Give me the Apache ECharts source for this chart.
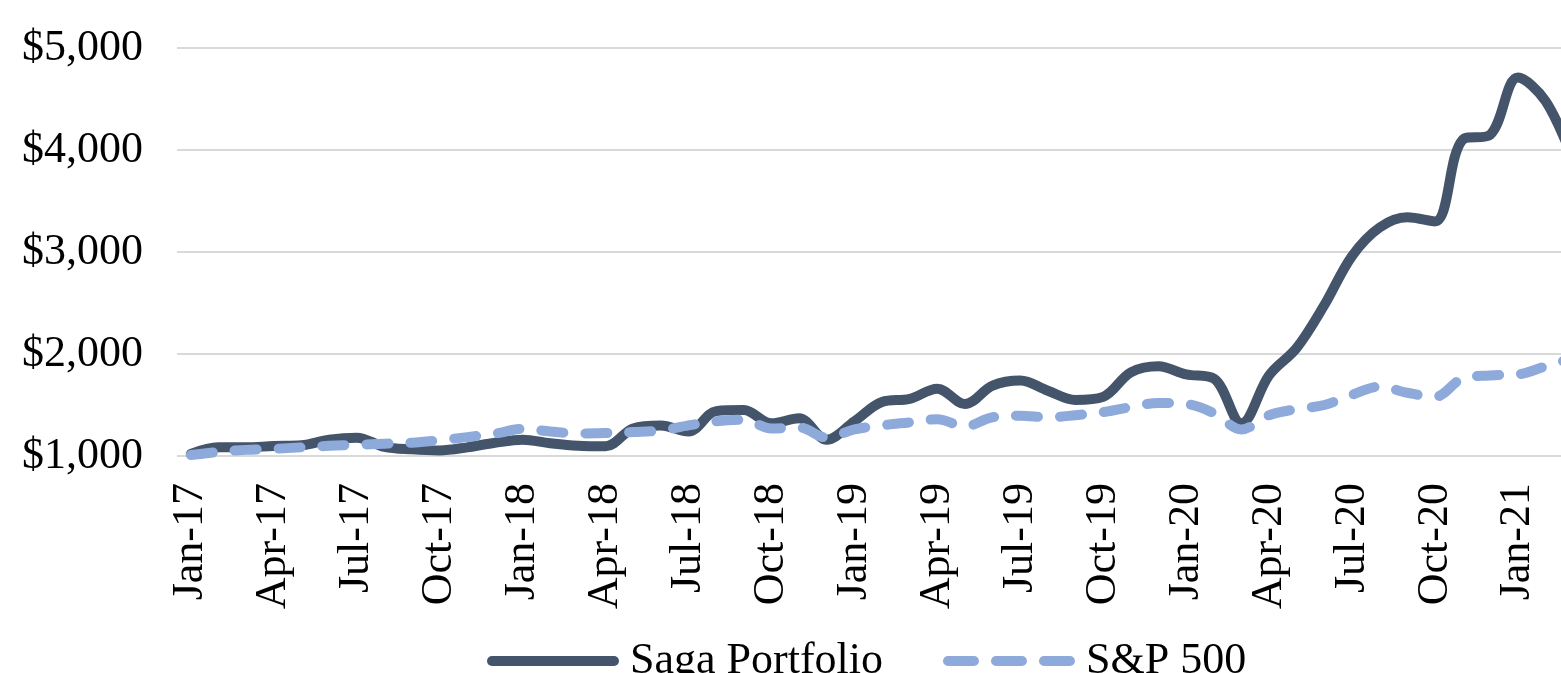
<!DOCTYPE html>
<html>
<head>
<meta charset="utf-8">
<script src="https://cdn.jsdelivr.net/npm/echarts@6/dist/echarts.min.js"></script>
<style>
html, body { margin: 0; padding: 0; background: #fff; }
#growthChart { width: 1561px; height: 673px; }
</style>
</head>
<body>
<div id="growthChart"></div>
<script>
// months Jan-17 .. Mar-21
var months = ['Jan-17', 'Feb-17', 'Mar-17', 'Apr-17', 'May-17', 'Jun-17', 'Jul-17', 'Aug-17', 'Sep-17', 'Oct-17', 'Nov-17', 'Dec-17',
	'Jan-18', 'Feb-18', 'Mar-18', 'Apr-18', 'May-18', 'Jun-18', 'Jul-18', 'Aug-18', 'Sep-18', 'Oct-18', 'Nov-18', 'Dec-18',
	'Jan-19', 'Feb-19', 'Mar-19', 'Apr-19', 'May-19', 'Jun-19', 'Jul-19', 'Aug-19', 'Sep-19', 'Oct-19', 'Nov-19', 'Dec-19',
	'Jan-20', 'Feb-20', 'Mar-20', 'Apr-20', 'May-20', 'Jun-20', 'Jul-20', 'Aug-20', 'Sep-20', 'Oct-20', 'Nov-20', 'Dec-20',
	'Jan-21', 'Feb-21', 'Mar-21'];

var sagaValues = [1020, 1085, 1085, 1098, 1105, 1160, 1180, 1090, 1065, 1055, 1085, 1130,
	1160, 1125, 1100, 1095, 1270, 1300, 1240, 1440, 1450, 1320, 1370, 1160,
	1340, 1530, 1560, 1660, 1510, 1690, 1740, 1640, 1550, 1580, 1820, 1880,
	1800, 1760, 1320, 1790, 2060, 2480, 2960, 3240, 3340, 3300, 4100, 4150,
	4710, 4480, 3900];

var spValues = [1010, 1040, 1060, 1070, 1085, 1100, 1110, 1120, 1130, 1155, 1185, 1220,
	1265, 1240, 1220, 1225, 1235, 1250, 1300, 1340, 1355, 1270, 1280, 1180,
	1260, 1300, 1330, 1360, 1290, 1380, 1395, 1380, 1400, 1430, 1480, 1520,
	1510, 1420, 1260, 1400, 1460, 1500, 1600, 1680, 1620, 1580, 1760, 1790,
	1800, 1880, 1960];

var yTicks = [1000, 5000, 1000]; // min, max, step

var seriesNames = ['Saga Portfolio', 'S&P 500'];

var FONT = 'Liberation Serif, Times New Roman, serif';

// legend icons: a solid capsule and three dash capsules (132 x 10 box)
var solidIcon = 'path://M5,0H127A5,5 0 0 1 127,10H5A5,5 0 0 1 5,0Z';
var dashIcon = 'path://M5,0H31A5,5 0 0 1 31,10H5A5,5 0 0 1 5,0Z'
	+ 'M53,0H79A5,5 0 0 1 79,10H53A5,5 0 0 1 53,0Z'
	+ 'M101,0H127A5,5 0 0 1 127,10H101A5,5 0 0 1 101,0Z';

function drawGrowthChart() {
	var myChart = echarts.init(document.getElementById('growthChart'));
	var option = {
		backgroundColor : '#ffffff',
		animation : false,
		grid : {
			left : 177,
			top : 48,
			width : 1410,
			height : 408,
			outerBoundsMode : 'none'
		},
		legend : {
			data : [
				{ name : seriesNames[0], icon : solidIcon },
				{ name : seriesNames[1], icon : dashIcon }
			],
			top : 634,
			left : 482,
			itemWidth : 132,
			itemHeight : 10,
			itemGap : 60,
			textStyle : {
				fontFamily : FONT,
				fontSize : 44,
				color : '#000',
				padding : [0, 0, 0, 6]
			}
		},
		xAxis : {
			type : 'category',
			data : months,
			boundaryGap : true,
			axisLine : { show : false },
			axisTick : { show : false },
			axisLabel : {
				interval : 2,
				rotate : 90,
				margin : 27,
				fontFamily : FONT,
				fontSize : 44,
				color : '#000'
			}
		},
		yAxis : {
			type : 'value',
			min : yTicks[0],
			max : yTicks[1],
			interval : yTicks[2],
			axisLine : { show : false },
			axisTick : { show : false },
			splitLine : {
				lineStyle : { color : '#d9d9d9', width : 2 }
			},
			axisLabel : {
				margin : 34,
				fontFamily : FONT,
				fontSize : 44,
				color : '#000',
				formatter : function (v) {
					return '$' + v.toLocaleString('en-US');
				}
			}
		},
		series : [ {
			name : seriesNames[0],
			type : 'line',
			data : sagaValues,
			smooth : 0.35,
			symbol : 'none',
			z : 2,
			lineStyle : {
				color : '#44546a',
				width : 10,
				cap : 'round',
				join : 'round'
			},
			itemStyle : { color : '#44546a' }
		}, {
			name : seriesNames[1],
			type : 'line',
			data : spValues,
			smooth : 0.35,
			symbol : 'none',
			z : 3,
			lineStyle : {
				color : '#8eaadb',
				width : 10,
				type : [22, 22],
				cap : 'round',
				join : 'round'
			},
			itemStyle : { color : '#8eaadb' }
		} ]
	};
	myChart.setOption(option);
}

drawGrowthChart();
</script>
</body>
</html>
